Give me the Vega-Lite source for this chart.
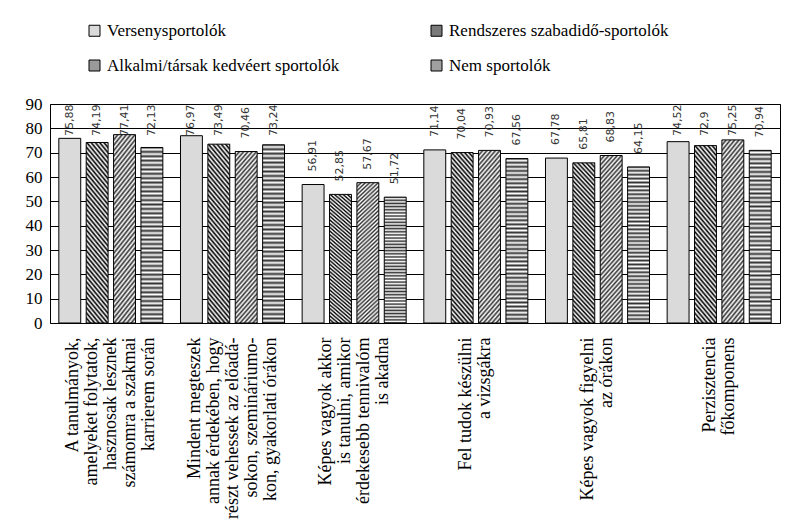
{
  "$schema": "https://vega.github.io/schema/vega-lite/v6.json",
  "width": 730,
  "height": 219,
  "autosize": {"type": "none"},
  "padding": {"left": 50, "top": 104, "right": 12, "bottom": 202},
  "background": "white",
  "config": {
    "locale": {"number": {"decimal": ",", "thousands": " ", "grouping": [3], "currency": ["", ""]}},
    "view": {"stroke": "#000", "strokeWidth": 1},
    "font": "Liberation Serif, DejaVu Serif, serif"
  },
  "data": {
    "values": [
      {"kat": "A tanulmányok,|amelyeket folytatok,|hasznosak lesznek|számomra a szakmai|karrierem során", "csoport": "Versenysportolók", "ertek": 75.88},
      {"kat": "A tanulmányok,|amelyeket folytatok,|hasznosak lesznek|számomra a szakmai|karrierem során", "csoport": "Rendszeres szabadidő-sportolók", "ertek": 74.19},
      {"kat": "A tanulmányok,|amelyeket folytatok,|hasznosak lesznek|számomra a szakmai|karrierem során", "csoport": "Alkalmi/társak kedvéert sportolók", "ertek": 77.41},
      {"kat": "A tanulmányok,|amelyeket folytatok,|hasznosak lesznek|számomra a szakmai|karrierem során", "csoport": "Nem sportolók", "ertek": 72.13},
      {"kat": "Mindent megteszek|annak érdekében, hogy|részt vehessek az előadá-|sokon, szemináriumo-|kon, gyakorlati órákon", "csoport": "Versenysportolók", "ertek": 76.97},
      {"kat": "Mindent megteszek|annak érdekében, hogy|részt vehessek az előadá-|sokon, szemináriumo-|kon, gyakorlati órákon", "csoport": "Rendszeres szabadidő-sportolók", "ertek": 73.49},
      {"kat": "Mindent megteszek|annak érdekében, hogy|részt vehessek az előadá-|sokon, szemináriumo-|kon, gyakorlati órákon", "csoport": "Alkalmi/társak kedvéert sportolók", "ertek": 70.46},
      {"kat": "Mindent megteszek|annak érdekében, hogy|részt vehessek az előadá-|sokon, szemináriumo-|kon, gyakorlati órákon", "csoport": "Nem sportolók", "ertek": 73.24},
      {"kat": "Képes vagyok akkor|is tanulni, amikor|érdekesebb tennivalóm|is akadna", "csoport": "Versenysportolók", "ertek": 56.91},
      {"kat": "Képes vagyok akkor|is tanulni, amikor|érdekesebb tennivalóm|is akadna", "csoport": "Rendszeres szabadidő-sportolók", "ertek": 52.85},
      {"kat": "Képes vagyok akkor|is tanulni, amikor|érdekesebb tennivalóm|is akadna", "csoport": "Alkalmi/társak kedvéert sportolók", "ertek": 57.67},
      {"kat": "Képes vagyok akkor|is tanulni, amikor|érdekesebb tennivalóm|is akadna", "csoport": "Nem sportolók", "ertek": 51.72},
      {"kat": "Fel tudok készülni|a vizsgákra", "csoport": "Versenysportolók", "ertek": 71.14},
      {"kat": "Fel tudok készülni|a vizsgákra", "csoport": "Rendszeres szabadidő-sportolók", "ertek": 70.04},
      {"kat": "Fel tudok készülni|a vizsgákra", "csoport": "Alkalmi/társak kedvéert sportolók", "ertek": 70.93},
      {"kat": "Fel tudok készülni|a vizsgákra", "csoport": "Nem sportolók", "ertek": 67.56},
      {"kat": "Képes vagyok figyelni|az órákon", "csoport": "Versenysportolók", "ertek": 67.78},
      {"kat": "Képes vagyok figyelni|az órákon", "csoport": "Rendszeres szabadidő-sportolók", "ertek": 65.81},
      {"kat": "Képes vagyok figyelni|az órákon", "csoport": "Alkalmi/társak kedvéert sportolók", "ertek": 68.83},
      {"kat": "Képes vagyok figyelni|az órákon", "csoport": "Nem sportolók", "ertek": 64.15},
      {"kat": "Perzisztencia|főkomponens", "csoport": "Versenysportolók", "ertek": 74.52},
      {"kat": "Perzisztencia|főkomponens", "csoport": "Rendszeres szabadidő-sportolók", "ertek": 72.9},
      {"kat": "Perzisztencia|főkomponens", "csoport": "Alkalmi/társak kedvéert sportolók", "ertek": 75.25},
      {"kat": "Perzisztencia|főkomponens", "csoport": "Nem sportolók", "ertek": 70.94}
    ]
  },
  "encoding": {
    "x": {
      "field": "kat", "type": "nominal", "sort": null,
      "scale": {
        "domain": ["A tanulmányok,|amelyeket folytatok,|hasznosak lesznek|számomra a szakmai|karrierem során", "Mindent megteszek|annak érdekében, hogy|részt vehessek az előadá-|sokon, szemináriumo-|kon, gyakorlati órákon", "Képes vagyok akkor|is tanulni, amikor|érdekesebb tennivalóm|is akadna", "Fel tudok készülni|a vizsgákra", "Képes vagyok figyelni|az órákon", "Perzisztencia|főkomponens"],
        "paddingInner": 0.1, "paddingOuter": 0.05
      },
      "axis": {
        "title": null, "labelAngle": -90, "labelAlign": "right", "labelBaseline": "middle",
        "ticks": false, "domain": false, "grid": false, "labelPadding": 14,
        "labelFont": "Liberation Serif, DejaVu Serif, serif", "labelFontSize": 18, "labelColor": "#000",
        "labelLineHeight": 19, "labelExpr": "split(datum.label, '|')", "labelLimit": 0, "labelOverlap": false,
        "labelOffset": {"expr": "-(length(split(datum.value, '|')) - 1) * 9.5"}
      }
    },
    "xOffset": {
      "field": "csoport", "type": "nominal",
      "scale": {"domain": ["Versenysportolók", "Rendszeres szabadidő-sportolók", "Alkalmi/társak kedvéert sportolók", "Nem sportolók"], "paddingInner": 0.2, "paddingOuter": 0.1}
    },
    "y": {
      "field": "ertek", "type": "quantitative",
      "scale": {"domain": [0, 90], "nice": false},
      "axis": {
        "title": null, "values": [0, 10, 20, 30, 40, 50, 60, 70, 80, 90],
        "grid": true, "gridColor": "#000", "gridWidth": 1, "gridOpacity": 1,
        "ticks": false, "domain": false, "labelPadding": 8,
        "labelFont": "Liberation Serif, DejaVu Serif, serif", "labelFontSize": 17, "labelColor": "#000"
      }
    }
  },
  "layer": [
    {
      "mark": {"type": "bar"},
      "encoding": {
        "y": {"datum": 0, "type": "quantitative"},
        "color": {
          "field": "csoport", "type": "nominal",
          "scale": {
            "domain": ["Versenysportolók", "Rendszeres szabadidő-sportolók", "Alkalmi/társak kedvéert sportolók", "Nem sportolók"],
            "range": ["#dadada", "#7a7a7a", "#9a9a9a", "#a0a0a0"]
          },
          "legend": {
            "title": null, "orient": "none", "legendX": 36, "legendY": -82, "direction": "horizontal",
            "columns": 2, "columnPadding": 88, "rowPadding": 17, "padding": 0,
            "symbolType": "square", "symbolSize": 121, "symbolStrokeColor": "#000", "symbolStrokeWidth": 1, "symbolOpacity": 1,
            "labelFont": "Liberation Serif, DejaVu Serif, serif", "labelFontSize": 17, "labelColor": "#000", "labelOffset": 4, "labelLimit": 0
          }
        }
      }
    },
    {
      "transform": [{"filter": "datum.csoport === 'Versenysportolók'"}],
      "mark": {"type": "bar", "stroke": "#000", "strokeWidth": 1, "fill": "#dadada"}
    },
    {
      "transform": [{"filter": "datum.csoport === 'Rendszeres szabadidő-sportolók'"}],
      "mark": {"type": "bar", "stroke": "#000", "strokeWidth": 1,
        "fill": {"gradient": "linear", "x1": 0, "y1": 1, "x2": 0.165, "y2": -0.123, "stops": [
          {"offset": 0, "color": "#000"}, {"offset": 0.0125, "color": "#fff"}, {"offset": 0.025, "color": "#000"}, {"offset": 0.0375, "color": "#fff"},
          {"offset": 0.05, "color": "#000"}, {"offset": 0.0625, "color": "#fff"}, {"offset": 0.075, "color": "#000"}, {"offset": 0.0875, "color": "#fff"},
          {"offset": 0.1, "color": "#000"}, {"offset": 0.1125, "color": "#fff"}, {"offset": 0.125, "color": "#000"}, {"offset": 0.1375, "color": "#fff"},
          {"offset": 0.15, "color": "#000"}, {"offset": 0.1625, "color": "#fff"}, {"offset": 0.175, "color": "#000"}, {"offset": 0.1875, "color": "#fff"},
          {"offset": 0.2, "color": "#000"}, {"offset": 0.2125, "color": "#fff"}, {"offset": 0.225, "color": "#000"}, {"offset": 0.2375, "color": "#fff"},
          {"offset": 0.25, "color": "#000"}, {"offset": 0.2625, "color": "#fff"}, {"offset": 0.275, "color": "#000"}, {"offset": 0.2875, "color": "#fff"},
          {"offset": 0.3, "color": "#000"}, {"offset": 0.3125, "color": "#fff"}, {"offset": 0.325, "color": "#000"}, {"offset": 0.3375, "color": "#fff"},
          {"offset": 0.35, "color": "#000"}, {"offset": 0.3625, "color": "#fff"}, {"offset": 0.375, "color": "#000"}, {"offset": 0.3875, "color": "#fff"},
          {"offset": 0.4, "color": "#000"}, {"offset": 0.4125, "color": "#fff"}, {"offset": 0.425, "color": "#000"}, {"offset": 0.4375, "color": "#fff"},
          {"offset": 0.45, "color": "#000"}, {"offset": 0.4625, "color": "#fff"}, {"offset": 0.475, "color": "#000"}, {"offset": 0.4875, "color": "#fff"},
          {"offset": 0.5, "color": "#000"}, {"offset": 0.5125, "color": "#fff"}, {"offset": 0.525, "color": "#000"}, {"offset": 0.5375, "color": "#fff"},
          {"offset": 0.55, "color": "#000"}, {"offset": 0.5625, "color": "#fff"}, {"offset": 0.575, "color": "#000"}, {"offset": 0.5875, "color": "#fff"},
          {"offset": 0.6, "color": "#000"}, {"offset": 0.6125, "color": "#fff"}, {"offset": 0.625, "color": "#000"}, {"offset": 0.6375, "color": "#fff"},
          {"offset": 0.65, "color": "#000"}, {"offset": 0.6625, "color": "#fff"}, {"offset": 0.675, "color": "#000"}, {"offset": 0.6875, "color": "#fff"},
          {"offset": 0.7, "color": "#000"}, {"offset": 0.7125, "color": "#fff"}, {"offset": 0.725, "color": "#000"}, {"offset": 0.7375, "color": "#fff"},
          {"offset": 0.75, "color": "#000"}, {"offset": 0.7625, "color": "#fff"}, {"offset": 0.775, "color": "#000"}, {"offset": 0.7875, "color": "#fff"},
          {"offset": 0.8, "color": "#000"}, {"offset": 0.8125, "color": "#fff"}, {"offset": 0.825, "color": "#000"}, {"offset": 0.8375, "color": "#fff"},
          {"offset": 0.85, "color": "#000"}, {"offset": 0.8625, "color": "#fff"}, {"offset": 0.875, "color": "#000"}, {"offset": 0.8875, "color": "#fff"},
          {"offset": 0.9, "color": "#000"}, {"offset": 0.9125, "color": "#fff"}, {"offset": 0.925, "color": "#000"}, {"offset": 0.9375, "color": "#fff"},
          {"offset": 0.95, "color": "#000"}, {"offset": 0.9625, "color": "#fff"}, {"offset": 0.975, "color": "#000"}, {"offset": 0.9875, "color": "#fff"},
          {"offset": 1, "color": "#000"}
        ]}
      }
    },
    {
      "transform": [{"filter": "datum.csoport === 'Alkalmi/társak kedvéert sportolók'"}],
      "mark": {"type": "bar", "stroke": "#000", "strokeWidth": 1,
        "fill": {"gradient": "linear", "x1": 0, "y1": 0, "x2": 0.165, "y2": 1.123, "stops": [
          {"offset": 0, "color": "#333"}, {"offset": 0.0125, "color": "#fff"}, {"offset": 0.025, "color": "#333"}, {"offset": 0.0375, "color": "#fff"},
          {"offset": 0.05, "color": "#333"}, {"offset": 0.0625, "color": "#fff"}, {"offset": 0.075, "color": "#333"}, {"offset": 0.0875, "color": "#fff"},
          {"offset": 0.1, "color": "#333"}, {"offset": 0.1125, "color": "#fff"}, {"offset": 0.125, "color": "#333"}, {"offset": 0.1375, "color": "#fff"},
          {"offset": 0.15, "color": "#333"}, {"offset": 0.1625, "color": "#fff"}, {"offset": 0.175, "color": "#333"}, {"offset": 0.1875, "color": "#fff"},
          {"offset": 0.2, "color": "#333"}, {"offset": 0.2125, "color": "#fff"}, {"offset": 0.225, "color": "#333"}, {"offset": 0.2375, "color": "#fff"},
          {"offset": 0.25, "color": "#333"}, {"offset": 0.2625, "color": "#fff"}, {"offset": 0.275, "color": "#333"}, {"offset": 0.2875, "color": "#fff"},
          {"offset": 0.3, "color": "#333"}, {"offset": 0.3125, "color": "#fff"}, {"offset": 0.325, "color": "#333"}, {"offset": 0.3375, "color": "#fff"},
          {"offset": 0.35, "color": "#333"}, {"offset": 0.3625, "color": "#fff"}, {"offset": 0.375, "color": "#333"}, {"offset": 0.3875, "color": "#fff"},
          {"offset": 0.4, "color": "#333"}, {"offset": 0.4125, "color": "#fff"}, {"offset": 0.425, "color": "#333"}, {"offset": 0.4375, "color": "#fff"},
          {"offset": 0.45, "color": "#333"}, {"offset": 0.4625, "color": "#fff"}, {"offset": 0.475, "color": "#333"}, {"offset": 0.4875, "color": "#fff"},
          {"offset": 0.5, "color": "#333"}, {"offset": 0.5125, "color": "#fff"}, {"offset": 0.525, "color": "#333"}, {"offset": 0.5375, "color": "#fff"},
          {"offset": 0.55, "color": "#333"}, {"offset": 0.5625, "color": "#fff"}, {"offset": 0.575, "color": "#333"}, {"offset": 0.5875, "color": "#fff"},
          {"offset": 0.6, "color": "#333"}, {"offset": 0.6125, "color": "#fff"}, {"offset": 0.625, "color": "#333"}, {"offset": 0.6375, "color": "#fff"},
          {"offset": 0.65, "color": "#333"}, {"offset": 0.6625, "color": "#fff"}, {"offset": 0.675, "color": "#333"}, {"offset": 0.6875, "color": "#fff"},
          {"offset": 0.7, "color": "#333"}, {"offset": 0.7125, "color": "#fff"}, {"offset": 0.725, "color": "#333"}, {"offset": 0.7375, "color": "#fff"},
          {"offset": 0.75, "color": "#333"}, {"offset": 0.7625, "color": "#fff"}, {"offset": 0.775, "color": "#333"}, {"offset": 0.7875, "color": "#fff"},
          {"offset": 0.8, "color": "#333"}, {"offset": 0.8125, "color": "#fff"}, {"offset": 0.825, "color": "#333"}, {"offset": 0.8375, "color": "#fff"},
          {"offset": 0.85, "color": "#333"}, {"offset": 0.8625, "color": "#fff"}, {"offset": 0.875, "color": "#333"}, {"offset": 0.8875, "color": "#fff"},
          {"offset": 0.9, "color": "#333"}, {"offset": 0.9125, "color": "#fff"}, {"offset": 0.925, "color": "#333"}, {"offset": 0.9375, "color": "#fff"},
          {"offset": 0.95, "color": "#333"}, {"offset": 0.9625, "color": "#fff"}, {"offset": 0.975, "color": "#333"}, {"offset": 0.9875, "color": "#fff"},
          {"offset": 1, "color": "#333"}
        ]}
      }
    },
    {
      "transform": [{"filter": "datum.csoport === 'Nem sportolók'"}],
      "mark": {"type": "bar", "stroke": "#000", "strokeWidth": 1,
        "fill": {"gradient": "linear", "x1": 0, "y1": 0, "x2": 0, "y2": 1, "stops": [
          {"offset": 0, "color": "#333"}, {"offset": 0.0125, "color": "#fff"}, {"offset": 0.025, "color": "#333"}, {"offset": 0.0375, "color": "#fff"},
          {"offset": 0.05, "color": "#333"}, {"offset": 0.0625, "color": "#fff"}, {"offset": 0.075, "color": "#333"}, {"offset": 0.0875, "color": "#fff"},
          {"offset": 0.1, "color": "#333"}, {"offset": 0.1125, "color": "#fff"}, {"offset": 0.125, "color": "#333"}, {"offset": 0.1375, "color": "#fff"},
          {"offset": 0.15, "color": "#333"}, {"offset": 0.1625, "color": "#fff"}, {"offset": 0.175, "color": "#333"}, {"offset": 0.1875, "color": "#fff"},
          {"offset": 0.2, "color": "#333"}, {"offset": 0.2125, "color": "#fff"}, {"offset": 0.225, "color": "#333"}, {"offset": 0.2375, "color": "#fff"},
          {"offset": 0.25, "color": "#333"}, {"offset": 0.2625, "color": "#fff"}, {"offset": 0.275, "color": "#333"}, {"offset": 0.2875, "color": "#fff"},
          {"offset": 0.3, "color": "#333"}, {"offset": 0.3125, "color": "#fff"}, {"offset": 0.325, "color": "#333"}, {"offset": 0.3375, "color": "#fff"},
          {"offset": 0.35, "color": "#333"}, {"offset": 0.3625, "color": "#fff"}, {"offset": 0.375, "color": "#333"}, {"offset": 0.3875, "color": "#fff"},
          {"offset": 0.4, "color": "#333"}, {"offset": 0.4125, "color": "#fff"}, {"offset": 0.425, "color": "#333"}, {"offset": 0.4375, "color": "#fff"},
          {"offset": 0.45, "color": "#333"}, {"offset": 0.4625, "color": "#fff"}, {"offset": 0.475, "color": "#333"}, {"offset": 0.4875, "color": "#fff"},
          {"offset": 0.5, "color": "#333"}, {"offset": 0.5125, "color": "#fff"}, {"offset": 0.525, "color": "#333"}, {"offset": 0.5375, "color": "#fff"},
          {"offset": 0.55, "color": "#333"}, {"offset": 0.5625, "color": "#fff"}, {"offset": 0.575, "color": "#333"}, {"offset": 0.5875, "color": "#fff"},
          {"offset": 0.6, "color": "#333"}, {"offset": 0.6125, "color": "#fff"}, {"offset": 0.625, "color": "#333"}, {"offset": 0.6375, "color": "#fff"},
          {"offset": 0.65, "color": "#333"}, {"offset": 0.6625, "color": "#fff"}, {"offset": 0.675, "color": "#333"}, {"offset": 0.6875, "color": "#fff"},
          {"offset": 0.7, "color": "#333"}, {"offset": 0.7125, "color": "#fff"}, {"offset": 0.725, "color": "#333"}, {"offset": 0.7375, "color": "#fff"},
          {"offset": 0.75, "color": "#333"}, {"offset": 0.7625, "color": "#fff"}, {"offset": 0.775, "color": "#333"}, {"offset": 0.7875, "color": "#fff"},
          {"offset": 0.8, "color": "#333"}, {"offset": 0.8125, "color": "#fff"}, {"offset": 0.825, "color": "#333"}, {"offset": 0.8375, "color": "#fff"},
          {"offset": 0.85, "color": "#333"}, {"offset": 0.8625, "color": "#fff"}, {"offset": 0.875, "color": "#333"}, {"offset": 0.8875, "color": "#fff"},
          {"offset": 0.9, "color": "#333"}, {"offset": 0.9125, "color": "#fff"}, {"offset": 0.925, "color": "#333"}, {"offset": 0.9375, "color": "#fff"},
          {"offset": 0.95, "color": "#333"}, {"offset": 0.9625, "color": "#fff"}, {"offset": 0.975, "color": "#333"}, {"offset": 0.9875, "color": "#fff"},
          {"offset": 1, "color": "#333"}
        ]}
      }
    },
    {
      "mark": {
        "type": "text", "angle": 270, "align": "left", "baseline": "middle",
        "font": "DejaVu Sans", "fontSize": 11, "color": "#333",
        "dx": {"expr": "min(13, scale('y', datum.ertek) - 32)"}
      },
      "encoding": {
        "text": {"field": "ertek", "type": "quantitative", "format": ".2~f"}
      }
    }
  ]
}
